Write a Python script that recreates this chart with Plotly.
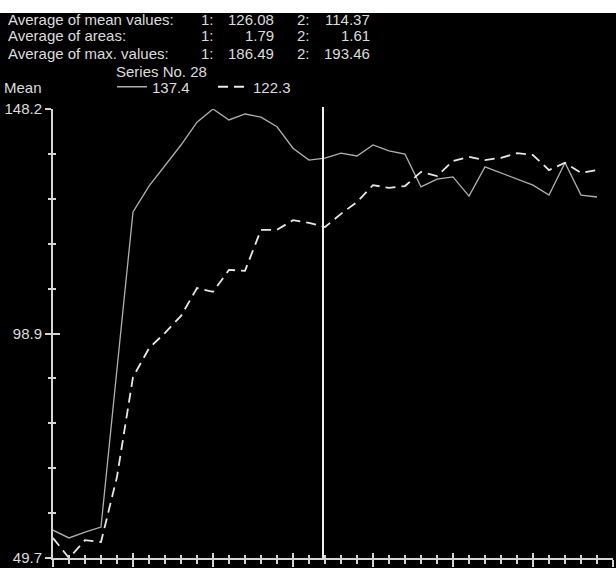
import plotly.graph_objects as go

# ---------------- data ----------------
x_index = list(range(35))
series1 = [55.8, 54.1, 55.4, 56.5, 91.2, 125.6, 131.3, 135.7, 140.3, 145.3,
           148.2, 145.8, 147.1, 146.4, 144.3, 139.6, 137.0, 137.4, 138.5, 137.9,
           140.3, 139.0, 138.3, 131.1, 132.8, 133.3, 129.1, 135.5, 134.2, 132.8,
           131.5, 129.3, 136.4, 129.3, 128.9]
series2 = [54.1, 49.7, 53.6, 53.2, 67.5, 89.4, 95.7, 99.1, 102.8, 108.9,
           108.1, 112.9, 112.7, 121.7, 121.7, 123.8, 123.2, 122.3, 125.2, 127.8,
           131.5, 130.9, 131.3, 134.4, 133.5, 136.8, 137.7, 137.0, 137.5, 138.5,
           138.1, 134.8, 136.4, 134.2, 134.8]
series_names = ["137.4", "122.3"]
cursor_x = 16.875

y_min, y_max = 49.7, 148.2
y_tick_vals = [49.7, 98.9, 148.2]
y_tick_text = ["49.7", "98.9", "148.2"]
x_min, x_max = 0, 35

stat_labels = ["Average of mean values:", "Average of areas:", "Average of max. values:"]
stat_s1 = ["126.08", "1.79", "186.49"]
stat_s2 = ["114.37", "1.61", "193.46"]
series_title = "Series No. 28"
y_title = "Mean"

# ---------------- layout helpers (pixel -> paper) ----------------
W, H = 616, 568
L, R, T, B = 53, 3, 109, 10
PW, PH = W - L - R, H - T - B


def px_x(px):
    return (px - L) / PW


def px_y(py):
    return (H - B - py) / PH


FONT = "Liberation Sans, Arial, sans-serif"
TXT = "#dcdcdc"
AX = "#d4d4d4"

fig = go.Figure()
fig.add_trace(go.Scatter(x=x_index, y=series1, mode="lines", name=series_names[0],
                         line=dict(color="#b0b0b0", width=1.3), legend="legend",
                         hoverinfo="skip"))
fig.add_trace(go.Scatter(x=x_index, y=series2, mode="lines", name=series_names[1],
                         line=dict(color="#e8e8e8", width=1.8, dash="10px,6px"),
                         xaxis="x2", yaxis="y2", legend="legend2", hoverinfo="skip"))

minor_y = [y_min + (y_max - y_min) * i / 10 for i in range(1, 10) if i != 5]

common_x = dict(range=[x_min, x_max], showgrid=False, zeroline=False, showticklabels=False,
                tickvals=list(range(0, 36, 5)), tickcolor=AX, tickwidth=2,
                fixedrange=True)
common_y = dict(range=[y_min, y_max], showgrid=False, zeroline=False,
                tickvals=y_tick_vals, ticktext=y_tick_text, tickcolor=AX, tickwidth=2,
                fixedrange=True)

fig.update_layout(
    width=W, height=H, autosize=False,
    margin=dict(l=L, r=R, t=T, b=B, pad=0),
    paper_bgcolor="black", plot_bgcolor="black",
    font=dict(family=FONT, size=15, color=TXT),
    xaxis=dict(**common_x, ticks="outside", ticklen=7, showline=True, linecolor=AX, linewidth=2,
               minor=dict(dtick=1, tick0=0, ticks="outside", ticklen=4, tickcolor=AX, tickwidth=2)),
    xaxis2=dict(**common_x, ticks="inside", ticklen=5, overlaying="x", anchor="y2",
                minor=dict(dtick=1, tick0=0, ticks="inside", ticklen=3, tickcolor=AX, tickwidth=2)),
    yaxis=dict(**common_y, ticks="outside", ticklen=6, showline=True, linecolor=AX, linewidth=2,
               showticklabels=True, tickfont=dict(size=15, color=TXT, family=FONT),
               minor=dict(tickvals=minor_y, ticks="outside", ticklen=3, tickcolor=AX, tickwidth=2)),
    yaxis2=dict(**common_y, ticks="inside", ticklen=7, overlaying="y", anchor="x2",
                showticklabels=False,
                minor=dict(tickvals=minor_y, ticks="inside", ticklen=3, tickcolor=AX, tickwidth=2)),
    legend=dict(orientation="h", x=px_x(112), y=px_y(87), xanchor="left", yanchor="middle",
                bgcolor="rgba(0,0,0,0)", borderwidth=0, font=dict(size=15, color=TXT, family=FONT),
                itemwidth=30),
    legend2=dict(orientation="h", x=px_x(213), y=px_y(87), xanchor="left", yanchor="middle",
                 bgcolor="rgba(0,0,0,0)", borderwidth=0, font=dict(size=15, color=TXT, family=FONT),
                 itemwidth=30),
    showlegend=True,
)

# white strip across the top of the picture
fig.add_shape(type="rect", xref="paper", yref="paper", x0=px_x(-2), x1=px_x(W + 2),
              y0=px_y(13), y1=px_y(-2), fillcolor="white", line=dict(width=0), layer="above")

# cursor line
fig.add_shape(type="line", xref="x", yref="paper", x0=cursor_x, x1=cursor_x,
              y0=0, y1=px_y(107), line=dict(color="#f0f0f0", width=2))

row_y = [19, 35, 53]
for i in range(3):
    yy = px_y(row_y[i])
    fig.add_annotation(text=stat_labels[i], xref="paper", yref="paper", x=px_x(6), y=yy,
                       xanchor="left", yanchor="middle", showarrow=False)
    fig.add_annotation(text="1:", xref="paper", yref="paper", x=px_x(199), y=yy,
                       xanchor="left", yanchor="middle", showarrow=False)
    fig.add_annotation(text=stat_s1[i], xref="paper", yref="paper", x=px_x(276), y=yy,
                       xanchor="right", yanchor="middle", showarrow=False)
    fig.add_annotation(text="2:", xref="paper", yref="paper", x=px_x(295), y=yy,
                       xanchor="left", yanchor="middle", showarrow=False)
    fig.add_annotation(text=stat_s2[i], xref="paper", yref="paper", x=px_x(372), y=yy,
                       xanchor="right", yanchor="middle", showarrow=False)

fig.add_annotation(text=series_title, xref="paper", yref="paper", x=px_x(114), y=px_y(72),
                   xanchor="left", yanchor="middle", showarrow=False)
fig.add_annotation(text=y_title, xref="paper", yref="paper", x=px_x(2), y=px_y(87),
                   xanchor="left", yanchor="middle", showarrow=False)

fig.write_html(
    "out.html",
    config={"displayModeBar": False},
    post_script="document.body.style.margin='0px';document.body.style.backgroundColor='black';",
)
